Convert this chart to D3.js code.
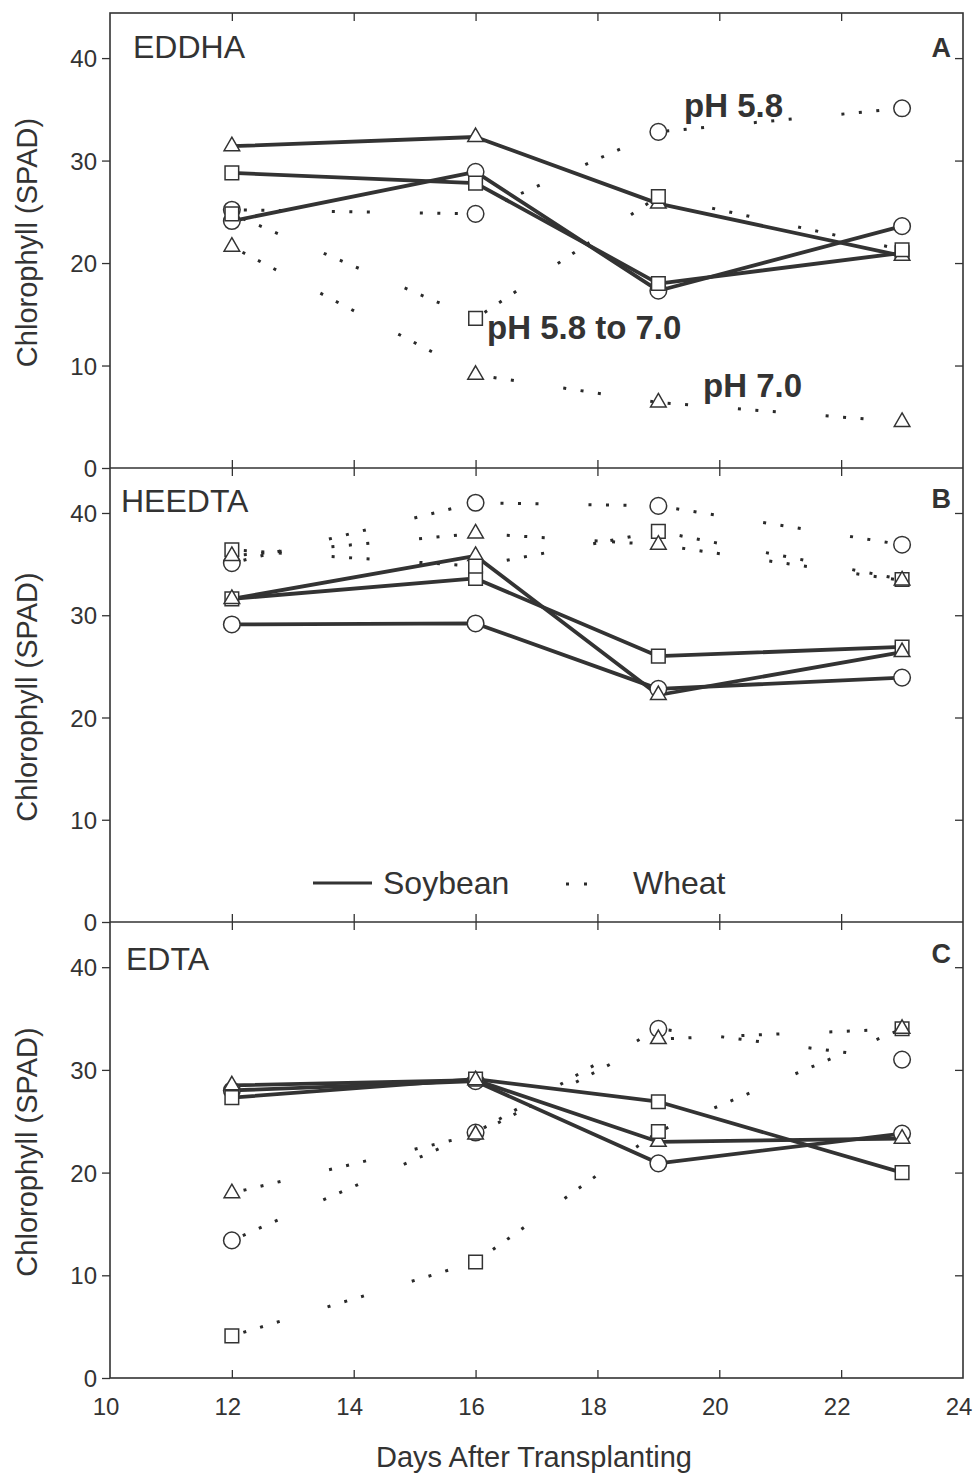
<!DOCTYPE html>
<html>
<head>
<meta charset="utf-8">
<script src="https://cdn.jsdelivr.net/npm/d3@7"></script>
<style>
  html, body { margin: 0; padding: 0; background: #ffffff; }
  svg { display: block; }
  text { font-family: "Liberation Sans", Arial, Helvetica, sans-serif; fill: #333; }
</style>
</head>
<body>
<svg id="chart" width="978" height="1474"></svg>
<script>
// Sampling days (days after transplanting)
const days = [12, 16, 19, 23];

// Panel A: EDDHA
const eddhaSoyCircle   = [24.1, 28.9, 17.3, 23.6];
const eddhaSoySquare   = [28.8, 27.8, 18.0, 21.0];
const eddhaSoyTriangle = [31.4, 32.3, 25.8, 20.7];
const eddhaWheatCircle   = [25.2, 24.8, 32.8, 35.1];
const eddhaWheatSquare   = [24.8, 14.6, 26.5, 21.3];
const eddhaWheatTriangle = [21.6, 9.1, 6.4, 4.5];

// Panel B: HEEDTA
const heedtaSoyCircle   = [29.1, 29.2, 22.8, 23.9];
const heedtaSoySquare   = [31.6, 33.6, 26.0, 26.9];
const heedtaSoyTriangle = [31.6, 35.8, 22.2, 26.4];
const heedtaWheatCircle   = [35.1, 41.0, 40.7, 36.9];
const heedtaWheatSquare   = [36.4, 34.8, 38.2, 33.5];
const heedtaWheatTriangle = [35.8, 38.0, 36.9, 33.4];

// Panel C: EDTA
const edtaSoyCircle   = [28.0, 28.9, 20.9, 23.8];
const edtaSoySquare   = [27.3, 29.1, 26.9, 20.0];
const edtaSoyTriangle = [28.5, 29.0, 23.0, 23.3];
const edtaWheatCircle   = [13.4, 23.9, 34.0, 31.0];
const edtaWheatSquare   = [4.1, 11.3, 24.0, 34.0];
const edtaWheatTriangle = [18.0, 23.7, 33.0, 34.0];

// Axis ticks
const xTicks = [10, 12, 14, 16, 18, 20, 22, 24];
const yTicks = [0, 10, 20, 30, 40];
const yMax = 44.4;

const panelNames = ["EDDHA", "HEEDTA", "EDTA"];
const panelLetters = ["A", "B", "C"];
const phLabels = ["pH 5.8", "pH 5.8 to 7.0", "pH 7.0"];
const legendLabels = ["Soybean", "Wheat"];

const panelSeries = [
  [
    { crop: "soy", shape: "circle", values: eddhaSoyCircle },
    { crop: "soy", shape: "square", values: eddhaSoySquare },
    { crop: "soy", shape: "triangle", values: eddhaSoyTriangle },
    { crop: "wheat", shape: "circle", values: eddhaWheatCircle },
    { crop: "wheat", shape: "square", values: eddhaWheatSquare },
    { crop: "wheat", shape: "triangle", values: eddhaWheatTriangle }
  ],
  [
    { crop: "soy", shape: "circle", values: heedtaSoyCircle },
    { crop: "soy", shape: "square", values: heedtaSoySquare },
    { crop: "soy", shape: "triangle", values: heedtaSoyTriangle },
    { crop: "wheat", shape: "circle", values: heedtaWheatCircle },
    { crop: "wheat", shape: "square", values: heedtaWheatSquare },
    { crop: "wheat", shape: "triangle", values: heedtaWheatTriangle }
  ],
  [
    { crop: "soy", shape: "circle", values: edtaSoyCircle },
    { crop: "soy", shape: "square", values: edtaSoySquare },
    { crop: "soy", shape: "triangle", values: edtaSoyTriangle },
    { crop: "wheat", shape: "circle", values: edtaWheatCircle },
    { crop: "wheat", shape: "square", values: edtaWheatSquare },
    { crop: "wheat", shape: "triangle", values: edtaWheatTriangle }
  ]
];

// ---- layout ----
const svg = d3.select("#chart");
const left = 110, right = 963;
const panels = [
  { top: 13, bottom: 468 },
  { top: 468, bottom: 922 },
  { top: 922, bottom: 1378 }
];
const ink = "#333";

const x = d3.scaleLinear().domain([10, 24]).range([left, right]);

const symbolFor = {
  circle: d3.symbol().type(d3.symbolCircle).size(216),
  square: d3.symbol().type(d3.symbolSquare).size(185),
  triangle: d3.symbol().type(d3.symbolTriangle).size(105)
};

panels.forEach((p, i) => {
  const y = d3.scaleLinear().domain([0, yMax]).range([p.bottom, p.top]);
  const g = svg.append("g");

  // left axis with outward ticks and labels
  const yAxis = g.append("g")
    .attr("transform", `translate(${left},0)`)
    .call(d3.axisLeft(y).tickValues(yTicks).tickSize(8).tickPadding(5).tickSizeOuter(0));
  yAxis.select(".domain").remove();
  yAxis.selectAll("line").attr("stroke", ink).attr("stroke-width", 1.3);
  yAxis.selectAll("text")
    .attr("font-size", 24)
    .attr("fill", ink)
    .attr("dy", "0.36em")
    .style("font-family", '"Liberation Sans", Arial, sans-serif');

  // right axis: inward ticks only
  const yRight = g.append("g")
    .attr("transform", `translate(${right},0)`)
    .call(d3.axisRight(y).tickValues(yTicks.filter(v => v > 0)).tickSize(-8).tickFormat("").tickSizeOuter(0));
  yRight.select(".domain").remove();
  yRight.selectAll("line").attr("stroke", ink).attr("stroke-width", 1.3);

  // top and bottom inward ticks
  const inner = xTicks.filter(v => v > 10 && v < 24);
  const xTop = g.append("g")
    .attr("transform", `translate(0,${p.top})`)
    .call(d3.axisTop(x).tickValues(inner).tickSize(-8).tickFormat("").tickSizeOuter(0));
  xTop.select(".domain").remove();
  xTop.selectAll("line").attr("stroke", ink).attr("stroke-width", 1.3);

  const xBot = g.append("g")
    .attr("transform", `translate(0,${p.bottom})`)
    .call(d3.axisBottom(x).tickValues(inner).tickSize(-8).tickFormat("").tickSizeOuter(0));
  xBot.select(".domain").remove();
  xBot.selectAll("line").attr("stroke", ink).attr("stroke-width", 1.3);

  // y axis title
  g.append("text")
    .attr("transform", `translate(37,${(p.top + p.bottom) / 2 + 2}) rotate(-90)`)
    .attr("text-anchor", "middle")
    .attr("font-size", 29)
    .text("Chlorophyll (SPAD)");

  // data lines
  const line = d3.line().x((d, k) => x(days[k])).y(d => y(d));
  const series = panelSeries[i];

  series.filter(s => s.crop === "wheat").forEach(s => {
    g.append("path")
      .attr("d", line(s.values))
      .attr("fill", "none")
      .attr("stroke", "#2a2a2a")
      .attr("stroke-width", 3)
      .attr("stroke-dasharray", "3,14.5,3,14.5,3,50")
      .attr("stroke-dashoffset", -12);
  });
  series.filter(s => s.crop === "soy").forEach(s => {
    g.append("path")
      .attr("d", line(s.values))
      .attr("fill", "none")
      .attr("stroke", "#333")
      .attr("stroke-width", 3.8)
      .attr("stroke-linejoin", "round");
  });

  // markers
  series.forEach(s => {
    g.selectAll(null)
      .data(s.values)
      .enter()
      .append("path")
      .attr("d", symbolFor[s.shape])
      .attr("transform", (d, k) => `translate(${x(days[k])},${y(d)})`)
      .attr("fill", "#fff")
      .attr("stroke", ink)
      .attr("stroke-width", 1.5);
  });

  // panel name and letter
  const nameX = [133, 121, 126];
  const nameY = [58, 512, 970];
  g.append("text")
    .attr("x", nameX[i]).attr("y", nameY[i])
    .attr("font-size", 32)
    .text(panelNames[i]);
  const letterY = [57, 508, 963];
  g.append("text")
    .attr("x", 951).attr("y", letterY[i])
    .attr("text-anchor", "end")
    .attr("font-size", 27)
    .attr("font-weight", "bold")
    .text(panelLetters[i]);
});

// frame around the three panels
svg.append("rect")
  .attr("x", left).attr("y", panels[0].top)
  .attr("width", right - left).attr("height", panels[2].bottom - panels[0].top)
  .attr("fill", "none").attr("stroke", ink).attr("stroke-width", 1.6);
[panels[0].bottom, panels[1].bottom].forEach(yy => {
  svg.append("line")
    .attr("x1", left).attr("x2", right).attr("y1", yy).attr("y2", yy)
    .attr("stroke", ink).attr("stroke-width", 1.6);
});

// pH annotations in panel A
const phPos = [[684, 117], [487, 339], [703, 397]];
phLabels.forEach((t, k) => {
  svg.append("text")
    .attr("x", phPos[k][0]).attr("y", phPos[k][1])
    .attr("font-size", 33)
    .attr("font-weight", "bold")
    .text(t);
});

// legend in panel B
svg.append("line")
  .attr("x1", 313).attr("x2", 372).attr("y1", 883).attr("y2", 883)
  .attr("stroke", "#333").attr("stroke-width", 3);
svg.append("text").attr("x", 383).attr("y", 894).attr("font-size", 32).text(legendLabels[0]);
svg.append("line")
  .attr("x1", 566).attr("x2", 590).attr("y1", 884).attr("y2", 884)
  .attr("stroke", "#2a2a2a").attr("stroke-width", 3)
  .attr("stroke-dasharray", "3,15");
svg.append("text").attr("x", 633).attr("y", 894).attr("font-size", 32).text(legendLabels[1]);

// x tick labels and title under the bottom panel
svg.append("g")
  .selectAll("text")
  .data(xTicks)
  .enter()
  .append("text")
  .attr("x", d => x(d) - 4)
  .attr("y", 1415)
  .attr("text-anchor", "middle")
  .attr("font-size", 24)
  .text(d => d);

svg.append("text")
  .attr("x", 534).attr("y", 1467)
  .attr("text-anchor", "middle")
  .attr("font-size", 29)
  .text("Days After Transplanting");
</script>
</body>
</html>
